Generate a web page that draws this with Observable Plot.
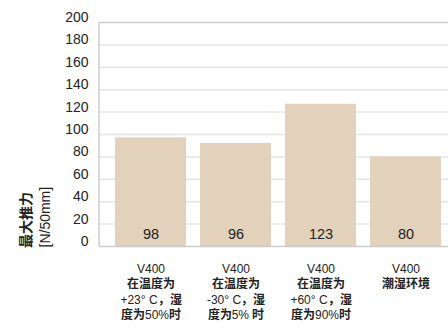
<!DOCTYPE html>
<html>
<head>
<meta charset="utf-8">
<script src="https://cdn.jsdelivr.net/npm/d3@7"></script>
<script src="https://cdn.jsdelivr.net/npm/@observablehq/plot@0.6"></script>
<style>
@font-face {
  font-family: "CJKBold";
  src: local("Noto Sans CJK SC Bold"), local("NotoSansCJKsc-Bold"), local("Noto Sans CJK SC");
  font-weight: normal;
  unicode-range: U+3000-303F, U+4E00-9FFF, U+FF00-FFEF;
}
html, body { margin: 0; padding: 0; background: #fff; }
#chart svg { display: block; font-family: "Liberation Sans", Arial, "CJKBold", "Noto Sans CJK SC", sans-serif; }
</style>
</head>
<body>
<div id="chart"></div>
<script>
// Data
const categories = [
  "V400\n在温度为\n+23° C，湿\n度为50%时",
  "V400\n在温度为\n-30° C，湿\n度为5% 时",
  "V400\n在温度为\n+60° C，湿\n度为90%时",
  "V400\n潮湿环境"
];
const barHeights = [97, 92, 127, 80];      // bar heights as drawn
const valueLabels = ["98", "96", "123", "80"]; // printed values
const yTicks = [0, 20, 40, 60, 80, 100, 120, 140, 160, 180, 200];
const yLabel = "最大推力\n[N/50mm]";

const rows = categories.map((c, i) => ({cat: c, h: barHeights[i], label: valueLabels[i]}));

// left frame edge of the plot area
function leftEdge(index, scales, values, dims) {
  const l = document.createElementNS("http://www.w3.org/2000/svg", "line");
  l.setAttribute("x1", dims.marginLeft);
  l.setAttribute("x2", dims.marginLeft);
  l.setAttribute("y1", dims.marginTop);
  l.setAttribute("y2", dims.height - dims.marginBottom);
  l.setAttribute("stroke", "#cccccc");
  l.setAttribute("stroke-width", 1.5);
  return l;
}

const chart = Plot.plot({
  width: 448,
  height: 333,
  marginLeft: 99,
  marginRight: 0,
  marginTop: 22,
  marginBottom: 87,
  x: {type: "band", domain: categories, range: [108, 448], paddingInner: 0.165, paddingOuter: 0.0824, axis: null},
  y: {domain: [0, 200], axis: null},
  marks: [
    Plot.ruleY(yTicks.filter(t => t > 0 && t < 200), {stroke: "#e4e4e4", strokeWidth: 1.5}),
    Plot.barY(rows, {x: "cat", y: "h", fill: "#e2d1bb"}),
    Plot.ruleY([0, 200], {stroke: "#cccccc", strokeWidth: 1.5}),
    leftEdge,
    Plot.axisY({ticks: yTicks, tickSize: 0, tickPadding: 11, fontSize: 14, dy: -5, fill: "#222", label: null}),
    Plot.text(rows, {x: "cat", y: () => 0, text: "label", dy: -12.5, fontSize: 14.5, fill: "#222"}),
    Plot.text(rows, {x: "cat", y: () => 0, text: "cat", lineAnchor: "top", dy: 15.5, fontSize: 12, lineHeight: 1.29, fill: "#222"}),
    Plot.text([yLabel], {frameAnchor: "bottom-left", text: d => d, rotate: -90, textAnchor: "start", lineAnchor: "top", dx: -81, dy: 1, fontSize: 14, lineHeight: 1.3, fill: "#222"})
  ]
});
document.getElementById("chart").appendChild(chart);
</script>
</body>
</html>
